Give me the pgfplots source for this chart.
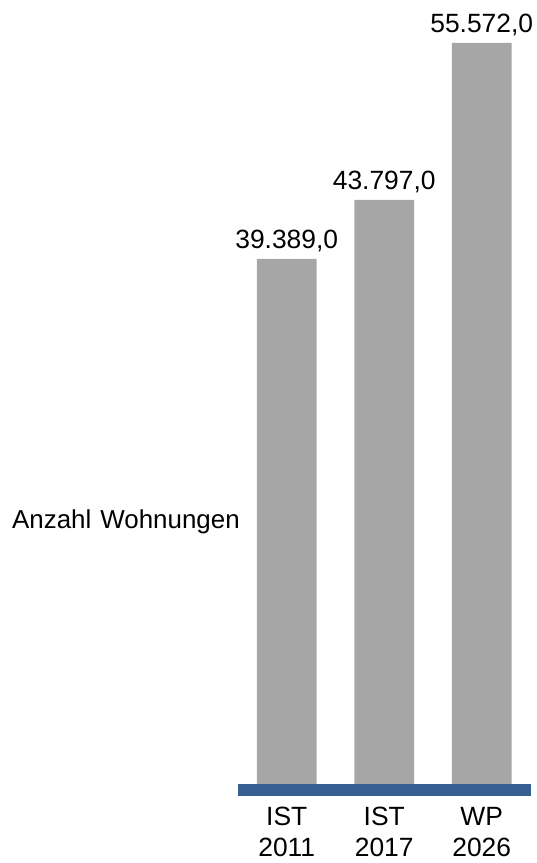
\documentclass[border=0pt]{standalone}
\usepackage{pgfplots}
\pgfplotsset{compat=1.18}
\usepackage{fontspec}
\setmainfont{Liberation Sans}
\definecolor{bargray}{RGB}{166,166,166}
\definecolor{lineblue}{RGB}{55,96,146}
\begin{document}
\begin{tikzpicture}
\path[use as bounding box] (0,0) rectangle (537bp,863bp);
\begin{axis}[
  at={(238bp,79bp)}, anchor=south west,
  width=292.5bp, height=741bp, scale only axis,
  xmin=-0.5, xmax=2.5, ymin=0, ymax=55572,
  axis line style={draw=none}, clip=false,
  axis x line*=bottom, axis y line=none,
  xtick={0,1,2},
  xticklabels={IST\\2011, IST\\2017, WP\\2026},
  major tick length=0pt,
  xticklabel style={font=\fontsize{26.5}{31}\selectfont, align=center, anchor=north, inner sep=0pt, yshift=-23bp},
  ytick=\empty,
  ybar, bar width=0.615,
  nodes near coords,
  every node near coord/.append style={font=\fontsize{26.5}{30}\selectfont, anchor=base, yshift=10bp},
  /pgf/number format/.cd, fixed, fixed zerofill, precision=1, 1000 sep={.}, use comma, assume math mode=true,
]
\addplot[fill=bargray, draw=none] coordinates {(0,39389) (1,43797) (2,55572)};
\draw[lineblue, line width=12bp] ([yshift=-6bp]axis cs:-0.5,0) -- ([yshift=-6bp]axis cs:2.5,0);
\end{axis}
\node[font=\fontsize{26}{30}\selectfont, anchor=west, inner sep=0] at (12bp,341bp) {Anzahl\hspace{0.35em}Wohnungen};
\end{tikzpicture}
\end{document}
